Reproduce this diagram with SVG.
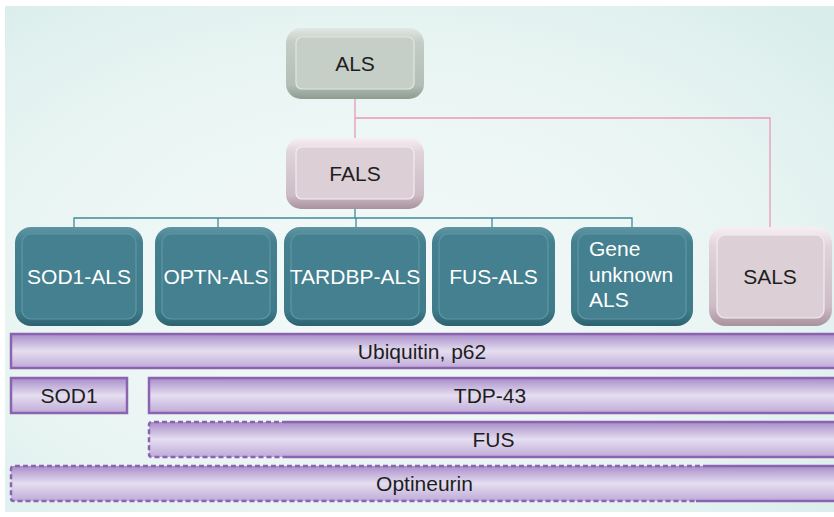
<svg xmlns="http://www.w3.org/2000/svg" width="834" height="517" viewBox="0 0 834 517">
  <defs>
    <radialGradient id="bg" cx="0.45" cy="0.55" r="0.75">
      <stop offset="0" stop-color="#f4faf9"/>
      <stop offset="0.6" stop-color="#e9f5f3"/>
      <stop offset="1" stop-color="#d9edeb"/>
    </radialGradient>
    <!-- raised box bevels -->
    <linearGradient id="tealEdge" x1="0" y1="0" x2="0" y2="1">
      <stop offset="0" stop-color="#5f95a3"/>
      <stop offset="0.15" stop-color="#44808f"/>
      <stop offset="0.85" stop-color="#3f7b8a"/>
      <stop offset="1" stop-color="#2c6270"/>
    </linearGradient>
    <linearGradient id="greyEdge" x1="0" y1="0" x2="0" y2="1">
      <stop offset="0" stop-color="#e2e8e3"/>
      <stop offset="0.2" stop-color="#c3ccc5"/>
      <stop offset="0.8" stop-color="#b3bfb6"/>
      <stop offset="1" stop-color="#8d9b91"/>
    </linearGradient>
    <linearGradient id="pinkEdge" x1="0" y1="0" x2="0" y2="1">
      <stop offset="0" stop-color="#f7eff3"/>
      <stop offset="0.2" stop-color="#e0d3da"/>
      <stop offset="0.8" stop-color="#cdbcc5"/>
      <stop offset="1" stop-color="#a8929d"/>
    </linearGradient>
    <linearGradient id="bar" x1="0" y1="0" x2="0" y2="1">
      <stop offset="0" stop-color="#a88dc9"/>
      <stop offset="0.5" stop-color="#e5def0"/>
      <stop offset="1" stop-color="#bfaad8"/>
    </linearGradient>
    <style>
      .lbl { font-family: "Liberation Sans", Arial, sans-serif; font-size: 21px; text-anchor: middle; }
      .left { text-anchor: start; }
      .dark { fill: #1e1e1e; }
      .light { fill: #ffffff; }
      .tealIn { fill: #44808f; stroke: #5f96a4; stroke-width: 1.2; }
      .greyIn { fill: #c6cec8; stroke: #e0e6e1; stroke-width: 1.2; }
      .pinkIn { fill: #dcd0d6; stroke: #f4ebf0; stroke-width: 1.2; }
      .barFill { fill: url(#bar); }
      .solid { fill: none; stroke: #8b63b1; stroke-width: 2.5; }
      .dash { fill: none; stroke: #8b63b1; stroke-width: 2.5; stroke-dasharray: 5 3; }
      .teal-link { fill: none; stroke: #3f8a9a; stroke-width: 1.3; }
      .pink-link { fill: none; stroke: #e79ab6; stroke-width: 1.3; }
    </style>
  </defs>

  <!-- panel -->
  <rect x="0" y="0" width="834" height="517" fill="#ffffff"/>
  <rect x="5" y="6" width="829" height="506" fill="url(#bg)"/>

  <!-- connectors -->
  <g id="connectors">
    <path class="pink-link" d="M355 99 V138"/>
    <path class="pink-link" d="M355 118 H770 V227"/>
    <path class="teal-link" d="M355 209 V218"/>
    <path class="teal-link" d="M74 227 V218 H632 V227"/>
    <path class="teal-link" d="M218 218 V227"/>
    <path class="teal-link" d="M356 218 V227"/>
    <path class="teal-link" d="M492 218 V227"/>
  </g>

  <!-- hierarchy nodes -->
  <g id="als">
    <rect x="286" y="28" width="138" height="71" rx="15" fill="url(#greyEdge)"/>
    <rect x="296" y="37" width="118" height="52" rx="6" class="greyIn"/>
    <text x="355" y="71" class="lbl dark">ALS</text>
  </g>
  <g id="fals">
    <rect x="286" y="138" width="138" height="71" rx="15" fill="url(#pinkEdge)"/>
    <rect x="296" y="147" width="118" height="52" rx="6" class="pinkIn"/>
    <text x="355" y="181" class="lbl dark">FALS</text>
  </g>
  <g id="sod1-als">
    <rect x="15" y="227" width="128" height="99" rx="16" fill="url(#tealEdge)"/>
    <rect x="22" y="234" width="114" height="85" rx="9" class="tealIn"/>
    <text x="79" y="284" class="lbl light">SOD1-ALS</text>
  </g>
  <g id="optn-als">
    <rect x="155" y="227" width="122" height="99" rx="16" fill="url(#tealEdge)"/>
    <rect x="162" y="234" width="108" height="85" rx="9" class="tealIn"/>
    <text x="216" y="284" class="lbl light">OPTN-ALS</text>
  </g>
  <g id="tardbp-als">
    <rect x="284" y="227" width="142" height="99" rx="16" fill="url(#tealEdge)"/>
    <rect x="291" y="234" width="128" height="85" rx="9" class="tealIn"/>
    <text x="355" y="284" class="lbl light">TARDBP-ALS</text>
  </g>
  <g id="fus-als">
    <rect x="432" y="227" width="123" height="99" rx="16" fill="url(#tealEdge)"/>
    <rect x="439" y="234" width="109" height="85" rx="9" class="tealIn"/>
    <text x="493.5" y="284" class="lbl light">FUS-ALS</text>
  </g>
  <g id="gene-unknown-als">
    <rect x="571" y="227" width="122" height="99" rx="16" fill="url(#tealEdge)"/>
    <rect x="578" y="234" width="108" height="85" rx="9" class="tealIn"/>
    <text x="589" y="256" class="lbl light left">Gene</text>
    <text x="589" y="281.5" class="lbl light left">unknown</text>
    <text x="589" y="307" class="lbl light left">ALS</text>
  </g>
  <g id="sals">
    <rect x="709" y="227" width="123" height="99" rx="16" fill="url(#pinkEdge)"/>
    <rect x="717" y="235" width="107" height="83" rx="8" class="pinkIn"/>
    <text x="770" y="284" class="lbl dark">SALS</text>
  </g>

  <!-- protein inclusion bars -->
  <g id="bar-ubiquitin">
    <rect x="11" y="334" width="830" height="34" class="barFill"/>
    <path class="solid" d="M840 334 H11 V368 H840"/>
    <text x="422" y="358.5" class="lbl dark">Ubiquitin, p62</text>
  </g>
  <g id="bar-sod1">
    <rect x="11" y="378" width="116" height="35" class="barFill"/>
    <rect x="11" y="378" width="116" height="35" class="solid"/>
    <text x="69" y="403" class="lbl dark">SOD1</text>
  </g>
  <g id="bar-tdp43">
    <rect x="149" y="378" width="692" height="35" class="barFill"/>
    <path class="solid" d="M840 378 H149 V413 H840"/>
    <text x="490" y="403" class="lbl dark">TDP-43</text>
  </g>
  <g id="bar-fus">
    <rect x="149" y="422" width="692" height="35" class="barFill"/>
    <path class="dash" d="M287 422 H152 Q149 422 149 425 V454 Q149 457 152 457 H287"/>
    <path class="solid" d="M287 422 H840 M287 457 H840"/>
    <text x="493.5" y="447" class="lbl dark">FUS</text>
  </g>
  <g id="bar-optineurin">
    <rect x="11" y="466" width="830" height="35" class="barFill"/>
    <path class="dash" d="M708 466 H14 Q11 466 11 469 V498 Q11 501 14 501 H696"/>
    <path class="solid" d="M708 466 H840 M696 501 H840"/>
    <text x="424.5" y="491" class="lbl dark">Optineurin</text>
  </g>
</svg>
